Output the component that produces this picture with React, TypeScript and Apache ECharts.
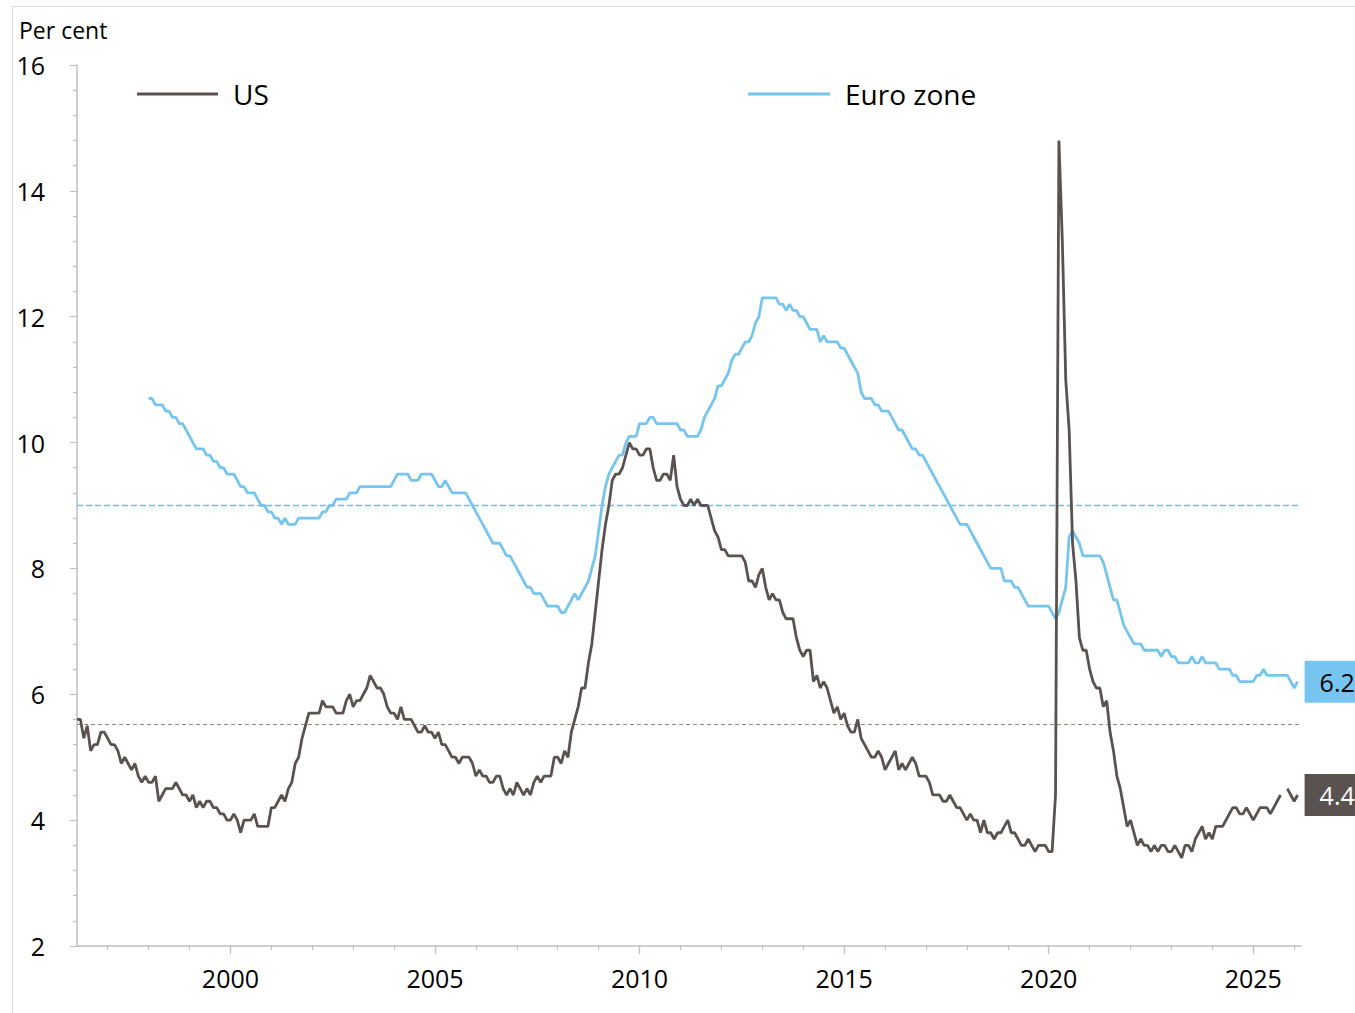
import React, { useEffect, useRef } from "react";
import * as echarts from "echarts";

// Monthly unemployment rates, per cent
// US: from April 1996 (October 2025 missing)
const usStartYear = 1996 + 3 / 12;
const usRate: (number | null)[] = [
  // 1996 Apr-Dec
  5.6, 5.6, 5.3, 5.5, 5.1, 5.2, 5.2, 5.4, 5.4,
  // 1997
  5.3, 5.2, 5.2, 5.1, 4.9, 5.0, 4.9, 4.8, 4.9, 4.7, 4.6, 4.7,
  // 1998
  4.6, 4.6, 4.7, 4.3, 4.4, 4.5, 4.5, 4.5, 4.6, 4.5, 4.4, 4.4,
  // 1999
  4.3, 4.4, 4.2, 4.3, 4.2, 4.3, 4.3, 4.2, 4.2, 4.1, 4.1, 4.0,
  // 2000
  4.0, 4.1, 4.0, 3.8, 4.0, 4.0, 4.0, 4.1, 3.9, 3.9, 3.9, 3.9,
  // 2001
  4.2, 4.2, 4.3, 4.4, 4.3, 4.5, 4.6, 4.9, 5.0, 5.3, 5.5, 5.7,
  // 2002
  5.7, 5.7, 5.7, 5.9, 5.8, 5.8, 5.8, 5.7, 5.7, 5.7, 5.9, 6.0,
  // 2003
  5.8, 5.9, 5.9, 6.0, 6.1, 6.3, 6.2, 6.1, 6.1, 6.0, 5.8, 5.7,
  // 2004
  5.7, 5.6, 5.8, 5.6, 5.6, 5.6, 5.5, 5.4, 5.4, 5.5, 5.4, 5.4,
  // 2005
  5.3, 5.4, 5.2, 5.2, 5.1, 5.0, 5.0, 4.9, 5.0, 5.0, 5.0, 4.9,
  // 2006
  4.7, 4.8, 4.7, 4.7, 4.6, 4.6, 4.7, 4.7, 4.5, 4.4, 4.5, 4.4,
  // 2007
  4.6, 4.5, 4.4, 4.5, 4.4, 4.6, 4.7, 4.6, 4.7, 4.7, 4.7, 5.0,
  // 2008
  5.0, 4.9, 5.1, 5.0, 5.4, 5.6, 5.8, 6.1, 6.1, 6.5, 6.8, 7.3,
  // 2009
  7.8, 8.3, 8.7, 9.0, 9.4, 9.5, 9.5, 9.6, 9.8, 10.0, 9.9, 9.9,
  // 2010
  9.8, 9.8, 9.9, 9.9, 9.6, 9.4, 9.4, 9.5, 9.5, 9.4, 9.8, 9.3,
  // 2011
  9.1, 9.0, 9.0, 9.1, 9.0, 9.1, 9.0, 9.0, 9.0, 8.8, 8.6, 8.5,
  // 2012
  8.3, 8.3, 8.2, 8.2, 8.2, 8.2, 8.2, 8.1, 7.8, 7.8, 7.7, 7.9,
  // 2013
  8.0, 7.7, 7.5, 7.6, 7.5, 7.5, 7.3, 7.2, 7.2, 7.2, 6.9, 6.7,
  // 2014
  6.6, 6.7, 6.7, 6.2, 6.3, 6.1, 6.2, 6.1, 5.9, 5.7, 5.8, 5.6,
  // 2015
  5.7, 5.5, 5.4, 5.4, 5.6, 5.3, 5.2, 5.1, 5.0, 5.0, 5.1, 5.0,
  // 2016
  4.8, 4.9, 5.0, 5.1, 4.8, 4.9, 4.8, 4.9, 5.0, 4.9, 4.7, 4.7,
  // 2017
  4.7, 4.6, 4.4, 4.4, 4.4, 4.3, 4.3, 4.4, 4.3, 4.2, 4.2, 4.1,
  // 2018
  4.0, 4.1, 4.0, 4.0, 3.8, 4.0, 3.8, 3.8, 3.7, 3.8, 3.8, 3.9,
  // 2019
  4.0, 3.8, 3.8, 3.7, 3.6, 3.6, 3.7, 3.6, 3.5, 3.6, 3.6, 3.6,
  // 2020
  3.5, 3.5, 4.4, 14.8, 13.2, 11.0, 10.2, 8.4, 7.8, 6.9, 6.7, 6.7,
  // 2021
  6.4, 6.2, 6.1, 6.1, 5.8, 5.9, 5.4, 5.1, 4.7, 4.5, 4.2, 3.9,
  // 2022
  4.0, 3.8, 3.6, 3.7, 3.6, 3.6, 3.5, 3.6, 3.5, 3.6, 3.6, 3.5,
  // 2023
  3.5, 3.6, 3.5, 3.4, 3.6, 3.6, 3.5, 3.7, 3.8, 3.9, 3.7, 3.8,
  // 2024
  3.7, 3.9, 3.9, 3.9, 4.0, 4.1, 4.2, 4.2, 4.1, 4.1, 4.2, 4.1,
  // 2025
  4.0, 4.1, 4.2, 4.2, 4.2, 4.1, 4.2, 4.3, 4.4, null, 4.5, 4.4,
  // 2026 Jan-Feb
  4.3, 4.4,
];

// Euro zone: from January 1998
const ezStartYear = 1998;
const ezRate: number[] = [
  // 1998
  10.7, 10.7, 10.6, 10.6, 10.6, 10.5, 10.5, 10.4, 10.4, 10.3, 10.3, 10.2,
  // 1999
  10.1, 10.0, 9.9, 9.9, 9.9, 9.8, 9.8, 9.7, 9.7, 9.6, 9.6, 9.5,
  // 2000
  9.5, 9.5, 9.4, 9.3, 9.3, 9.2, 9.2, 9.2, 9.1, 9.0, 9.0, 8.9,
  // 2001
  8.9, 8.8, 8.8, 8.7, 8.8, 8.7, 8.7, 8.7, 8.8, 8.8, 8.8, 8.8,
  // 2002
  8.8, 8.8, 8.8, 8.9, 8.9, 9.0, 9.0, 9.1, 9.1, 9.1, 9.1, 9.2,
  // 2003
  9.2, 9.2, 9.3, 9.3, 9.3, 9.3, 9.3, 9.3, 9.3, 9.3, 9.3, 9.3,
  // 2004
  9.4, 9.5, 9.5, 9.5, 9.5, 9.4, 9.4, 9.4, 9.5, 9.5, 9.5, 9.5,
  // 2005
  9.4, 9.3, 9.3, 9.4, 9.3, 9.2, 9.2, 9.2, 9.2, 9.2, 9.1, 9.0,
  // 2006
  8.9, 8.8, 8.7, 8.6, 8.5, 8.4, 8.4, 8.4, 8.3, 8.2, 8.2, 8.1,
  // 2007
  8.0, 7.9, 7.8, 7.7, 7.7, 7.6, 7.6, 7.6, 7.5, 7.4, 7.4, 7.4,
  // 2008
  7.4, 7.3, 7.3, 7.4, 7.5, 7.6, 7.5, 7.6, 7.7, 7.8, 8.0, 8.2,
  // 2009
  8.6, 9.0, 9.3, 9.5, 9.6, 9.7, 9.8, 9.8, 10.0, 10.1, 10.1, 10.1,
  // 2010
  10.3, 10.3, 10.3, 10.4, 10.4, 10.3, 10.3, 10.3, 10.3, 10.3, 10.3, 10.3,
  // 2011
  10.2, 10.2, 10.1, 10.1, 10.1, 10.1, 10.2, 10.4, 10.5, 10.6, 10.7, 10.9,
  // 2012
  10.9, 11.0, 11.1, 11.3, 11.4, 11.4, 11.5, 11.6, 11.6, 11.7, 11.9, 12.0,
  // 2013
  12.3, 12.3, 12.3, 12.3, 12.3, 12.2, 12.2, 12.1, 12.2, 12.1, 12.1, 12.0,
  // 2014
  12.0, 11.9, 11.8, 11.8, 11.8, 11.6, 11.7, 11.6, 11.6, 11.6, 11.6, 11.5,
  // 2015
  11.5, 11.4, 11.3, 11.2, 11.1, 10.8, 10.7, 10.7, 10.7, 10.6, 10.6, 10.5,
  // 2016
  10.5, 10.5, 10.4, 10.3, 10.2, 10.2, 10.1, 10.0, 9.9, 9.9, 9.8, 9.8,
  // 2017
  9.7, 9.6, 9.5, 9.4, 9.3, 9.2, 9.1, 9.0, 8.9, 8.8, 8.7, 8.7,
  // 2018
  8.7, 8.6, 8.5, 8.4, 8.3, 8.2, 8.1, 8.0, 8.0, 8.0, 8.0, 7.8,
  // 2019
  7.8, 7.8, 7.7, 7.7, 7.6, 7.5, 7.4, 7.4, 7.4, 7.4, 7.4, 7.4,
  // 2020
  7.4, 7.3, 7.2, 7.3, 7.5, 7.7, 8.5, 8.6, 8.5, 8.4, 8.2, 8.2,
  // 2021
  8.2, 8.2, 8.2, 8.2, 8.1, 7.9, 7.7, 7.5, 7.5, 7.3, 7.1, 7.0,
  // 2022
  6.9, 6.8, 6.8, 6.8, 6.7, 6.7, 6.7, 6.7, 6.7, 6.6, 6.7, 6.7,
  // 2023
  6.6, 6.6, 6.5, 6.5, 6.5, 6.5, 6.6, 6.5, 6.5, 6.6, 6.5, 6.5,
  // 2024
  6.5, 6.5, 6.4, 6.4, 6.4, 6.4, 6.3, 6.3, 6.2, 6.2, 6.2, 6.2,
  // 2025
  6.2, 6.3, 6.3, 6.4, 6.3, 6.3, 6.3, 6.3, 6.3, 6.3, 6.3, 6.2,
  // 2026 Jan-Feb
  6.1, 6.2,
];

// Long-run averages (dashed reference lines)
const usAverage = 5.52;
const ezAverage = 9.0;

// Axis ticks and labels
const yearTicks = [
  1997, 1998, 1999, 2000, 2001, 2002, 2003, 2004, 2005, 2006, 2007, 2008, 2009,
  2010, 2011, 2012, 2013, 2014, 2015, 2016, 2017, 2018, 2019, 2020, 2021, 2022,
  2023, 2024, 2025, 2026,
];
const yearLabels = [2000, 2005, 2010, 2015, 2020, 2025];
const xMin = 1996 + 3 / 12;
const xMax = 2026 + 2 / 12;

const US_COLOR = "#595250";
const EZ_COLOR = "#75C5F0";
const EZ_AVG_COLOR = "#66C1F3";
const US_AVG_COLOR = "#8C8580";
const AXIS_COLOR = "#BFBFBF";
const FONT = "'Open Sans', 'Noto Sans', sans-serif";

const toPairs = (start: number, values: (number | null)[]) =>
  values.map((v, i) => [start + i / 12, v === null ? "-" : v]);

export default function App() {
  const ref = useRef<HTMLDivElement>(null);

  useEffect(() => {
    if (!ref.current) return;
    const chart = echarts.init(ref.current, null, { renderer: "svg" });

    const avgLine = (name: string, value: number, color: string, dash: number[], width: number) => ({
      name,
      type: "line",
      xAxisIndex: 0,
      data: [
        [xMin, value],
        [xMax, value],
      ],
      color,
      showSymbol: false,
      symbol: "none",
      silent: true,
      z: 1,
      lineStyle: { color, width, type: dash, opacity: 1 },
      itemStyle: { color },
    });

    const option: any = {
      animation: false,
      backgroundColor: "#ffffff",
      textStyle: { fontFamily: FONT },
      title: {
        text: "Per cent",
        left: 19,
        top: 18,
        padding: 0,
        textStyle: { fontFamily: FONT, fontSize: 23, fontWeight: "normal", color: "#000" },
      },
      legend: [
        {
          data: ["US"],
          left: 137,
          top: 80,
          padding: 0,
          icon: "rect",
          itemWidth: 81,
          itemHeight: 3,
          textStyle: { fontFamily: FONT, fontSize: 28, color: "#000", padding: [0, 0, 0, 10] },
        },
        {
          data: ["Euro zone"],
          left: 748,
          top: 80,
          padding: 0,
          icon: "rect",
          itemWidth: 82,
          itemHeight: 3,
          textStyle: { fontFamily: FONT, fontSize: 28, color: "#000", padding: [0, 0, 0, 10] },
        },
      ],
      graphic: [
        {
          type: "rect",
          silent: true,
          shape: { x: 12.5, y: 6.5, width: 1400, height: 1100 },
          style: { fill: "none", stroke: "#D9D9D9", lineWidth: 1 },
        },
      ],
      grid: { left: 77, right: 54, top: 65, bottom: 67, containLabel: false },
      xAxis: [
        {
          type: "value",
          min: xMin,
          max: xMax,
          axisLine: { show: true, lineStyle: { color: AXIS_COLOR, width: 1.5 } },
          axisTick: {
            show: true,
            customValues: yearTicks,
            length: 4,
            lineStyle: { color: AXIS_COLOR, width: 1.2 },
          },
          axisLabel: { show: false },
          splitLine: { show: false },
        },
        {
          type: "value",
          min: xMin,
          max: xMax,
          position: "bottom",
          axisLine: { show: false },
          axisTick: {
            show: true,
            customValues: yearLabels,
            length: 8,
            lineStyle: { color: AXIS_COLOR, width: 1.2 },
          },
          axisLabel: {
            show: true,
            customValues: yearLabels,
            formatter: (v: number) => String(Math.round(v)),
            fontFamily: FONT,
            fontSize: 25,
            color: "#000",
            margin: 19,
          },
          splitLine: { show: false },
        },
      ],
      yAxis: {
        type: "value",
        min: 2,
        max: 16,
        interval: 2,
        axisLine: { show: true, lineStyle: { color: AXIS_COLOR, width: 1.5 } },
        axisTick: { show: true, length: 7, lineStyle: { color: AXIS_COLOR, width: 1.2 } },
        minorTick: { show: true, splitNumber: 5, length: 4, lineStyle: { color: AXIS_COLOR, width: 1.2 } },
        axisLabel: { fontFamily: FONT, fontSize: 25, color: "#000", margin: 32 },
        splitLine: { show: false },
        minorSplitLine: { show: false },
      },
      series: [
        avgLine("Euro zone average", ezAverage, EZ_AVG_COLOR, [6, 3], 1.3),
        avgLine("US average", usAverage, US_AVG_COLOR, [4, 3], 1.1),
        {
          name: "Euro zone",
          type: "line",
          xAxisIndex: 0,
          data: toPairs(ezStartYear, ezRate),
          color: EZ_COLOR,
          showSymbol: false,
          symbol: "none",
          lineStyle: { color: EZ_COLOR, width: 2.8 },
          z: 2,
          endLabel: {
            show: true,
            formatter: (p: any) => Number(p.value[1]).toFixed(1),
            fontFamily: FONT,
            fontSize: 25,
            color: "#000",
            backgroundColor: EZ_COLOR,
            padding: [9, 40, 8, 15],
            distance: 7,
          },
        },
        {
          name: "US",
          type: "line",
          xAxisIndex: 0,
          data: toPairs(usStartYear, usRate),
          color: US_COLOR,
          showSymbol: false,
          symbol: "none",
          connectNulls: false,
          lineStyle: { color: US_COLOR, width: 2.8 },
          z: 3,
          endLabel: {
            show: true,
            formatter: (p: any) => Number(p.value[1]).toFixed(1),
            fontFamily: FONT,
            fontSize: 25,
            color: "#fff",
            backgroundColor: US_COLOR,
            padding: [9, 40, 8, 15],
            distance: 7,
          },
        },
      ],
    };

    chart.setOption(option);
    return () => chart.dispose();
  }, []);

  return (
    <div
      ref={ref}
      style={{ position: "absolute", left: 0, top: 0, width: 1355, height: 1013 }}
    />
  );
}
